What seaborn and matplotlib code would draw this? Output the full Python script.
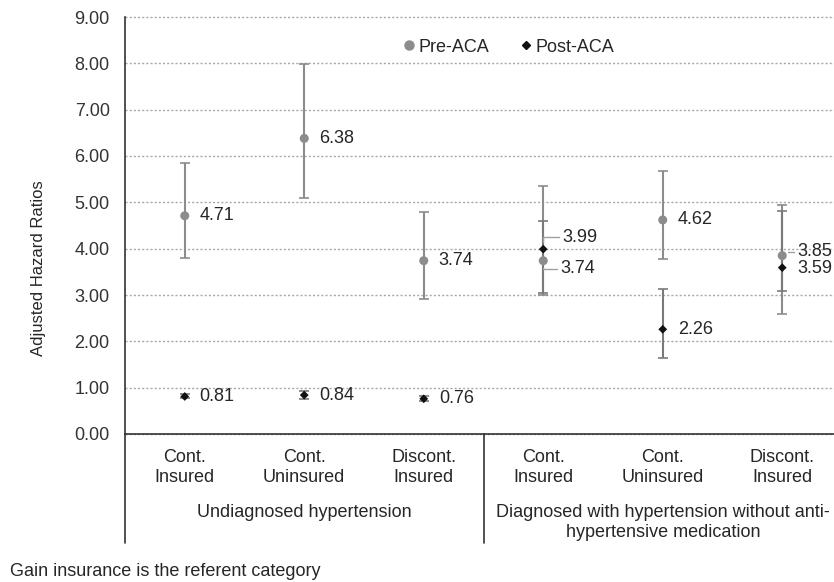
import numpy as np
import pandas as pd
import matplotlib.pyplot as plt
import matplotlib.transforms as mtransforms
import seaborn as sns

# values
categories = ["Cont.\nInsured", "Cont.\nUninsured", "Discont.\nInsured",
              "Cont.\nInsured", "Cont.\nUninsured", "Discont.\nInsured"]
groups = ["Undiagnosed hypertension",
          "Diagnosed with hypertension without anti-\nhypertensive medication"]
yticks = [0, 1, 2, 3, 4, 5, 6, 7, 8, 9]

pre_hr = [4.71, 6.38, 3.74, 3.74, 4.62, 3.85]
pre_lo = [3.79, 5.10, 2.91, 3.00, 3.77, 2.60]
pre_hi = [5.85, 7.98, 4.80, 5.35, 5.67, 4.94]

post_hr = [0.81, 0.84, 0.76, 3.99, 2.26, 3.59]
post_lo = [0.77, 0.75, 0.71, 3.05, 1.63, 3.09]
post_hi = [0.86, 0.93, 0.82, 4.59, 3.12, 4.81]

sns.set_theme(style="white")
plt.rcParams["font.family"] = ["Liberation Sans", "DejaVu Sans"]
TXT = "#262626"
FS = 13

n = len(categories)
df = pd.DataFrame({
    "pos": list(range(n)) * 2,
    "hr": pre_hr + post_hr,
    "lo": pre_lo + post_lo,
    "hi": pre_hi + post_hi,
    "period": ["Pre-ACA"] * n + ["Post-ACA"] * n,
})

fig = plt.figure(figsize=(8.34, 5.82), dpi=100)
ax = fig.add_axes([125 / 834, 148 / 582, 717 / 834, 417 / 582])

# confidence intervals
for period, c in [("Pre-ACA", "#8c8c8c"), ("Post-ACA", "#7a7a7a")]:
    d = df[df.period == period]
    ax.errorbar(d.pos, d.hr, yerr=[d.hr - d.lo, d.hi - d.hr], fmt="none",
                ecolor=c, elinewidth=1.5, capsize=3.3, capthick=1.2, zorder=2)

sns.scatterplot(data=df, x="pos", y="hr", hue="period", style="period",
                palette={"Pre-ACA": "#8c8c8c", "Post-ACA": "#111111"},
                markers={"Pre-ACA": "o", "Post-ACA": "D"},
                size="period", sizes={"Pre-ACA": 42, "Post-ACA": 20},
                linewidth=0, ax=ax, zorder=3, legend=False)

# data labels (pixel offsets, a few nudged with leader lines)
offsets = {("Pre-ACA", 3): (17, -8), ("Post-ACA", 3): (19, 12),
           ("Pre-ACA", 5): (15, 4), ("Post-ACA", 5): (15, -1)}
leaders = {("Pre-ACA", 3), ("Post-ACA", 3), ("Pre-ACA", 5)}
for _, r in df.iterrows():
    key = (r.period, int(r.pos))
    dx, dy = offsets.get(key, (15, 0))
    kw = {}
    if key in leaders:
        kw["arrowprops"] = dict(arrowstyle="-", color="#a0a0a0", lw=1,
                                shrinkA=0, shrinkB=5,
                                connectionstyle="angle,angleA=0,angleB=90,rad=0")
    ax.annotate(f"{r.hr:.2f}", (r.pos, r.hr), xytext=(dx, dy),
                textcoords="offset pixels", ha="left", va="center",
                fontsize=FS, color=TXT, annotation_clip=False, **kw)

ax.set_xlim(-0.5, n - 0.5)
ax.set_ylim(0, 9)
ax.set_yticks(yticks)
ax.set_yticklabels([f"{v:.2f}" for v in yticks])
ax.set_xticks(range(n))
ax.set_xticklabels(categories, linespacing=1.22)
ax.tick_params(axis="x", direction="in", length=3, width=1, color="#404040",
               pad=11, labelsize=FS, labelcolor=TXT)
ax.tick_params(axis="y", length=0, pad=11, labelsize=FS, labelcolor="#333333")
ax.set_xlabel("")
ax.set_ylabel("Adjusted Hazard Ratios", fontsize=12, color=TXT)
ax.yaxis.set_label_coords(-0.110, 0.398)

ax.yaxis.grid(True, linestyle=(0, (1.5, 1.5)), color="#a8a8a8", lw=1)
for gl in ax.get_ygridlines():
    gl.set_clip_on(False)
ax.set_axisbelow(True)
for s in ["top", "right"]:
    ax.spines[s].set_visible(False)
for s in ["left", "bottom"]:
    ax.spines[s].set_color("#333333")
    ax.spines[s].set_linewidth(1.2)

# group separators and labels under the axis
tr = mtransforms.blended_transform_factory(ax.transData, ax.transAxes)
drop = -(543 - 434) / 417
ax.plot([0, 0], [0, drop], transform=ax.transAxes, color="#333333",
        lw=1.2, clip_on=False)
ax.plot([2.5, 2.5], [0, drop], transform=tr, color="#333333",
        lw=1.2, clip_on=False)
for i, g in enumerate(groups):
    ax.text(1 + 3 * i, -(504 - 434) / 417, g, transform=tr, ha="center",
            va="top", fontsize=FS, color=TXT, linespacing=1.22)

# legend
handles = [plt.Line2D([], [], marker="o", ls="none", color="#8c8c8c", ms=6.5),
           plt.Line2D([], [], marker="D", ls="none", color="#111111", ms=4.5)]
ax.legend(handles, ["Pre-ACA", "Post-ACA"], loc="center",
          bbox_to_anchor=(0.534, 0.928), ncol=2, frameon=False, fontsize=FS,
          handletextpad=0.1, columnspacing=1.66, handlelength=0.8,
          labelcolor=TXT)

fig.text(10 / 834, 1 - 572 / 582, "Gain insurance is the referent category",
         ha="left", va="center", fontsize=FS, color=TXT)

fig.savefig("out.png", dpi=100)
plt.close(fig)
